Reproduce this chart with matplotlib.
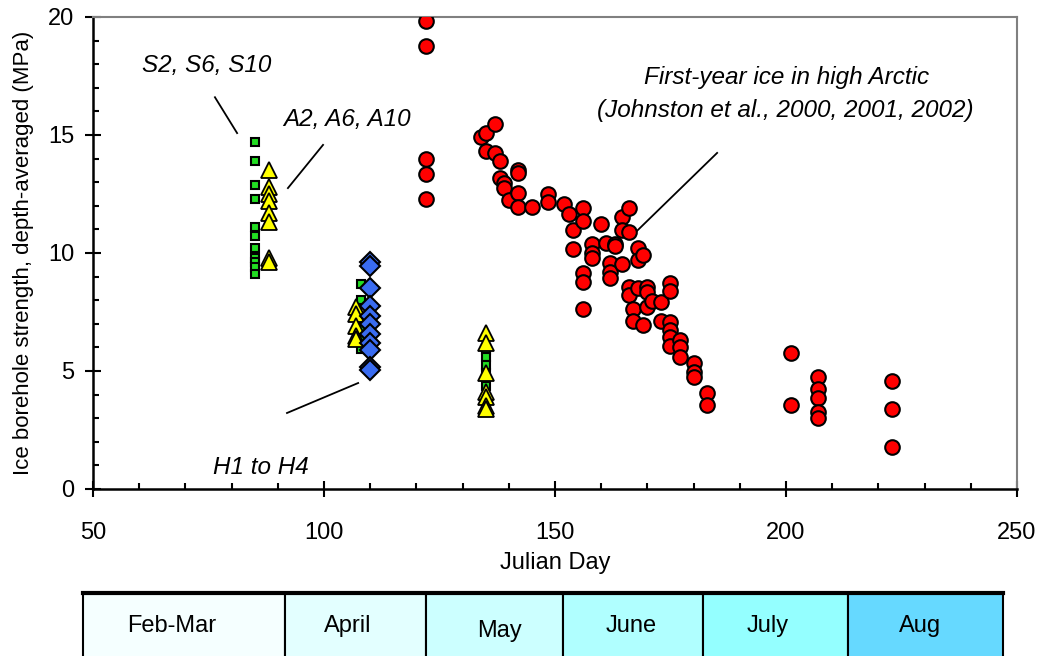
import matplotlib.pyplot as plt
from matplotlib.patches import Rectangle
from matplotlib.ticker import MultipleLocator

plt.rcParams['font.family'] = ['Liberation Sans', 'DejaVu Sans']

# S2, S6, S10 (squares)
s_day = [85] * 11 + [108] * 6 + [135] * 7
s_mpa = [14.7, 13.9, 12.9, 12.3, 11.1, 10.7, 10.2, 9.8, 9.6, 9.4, 9.1,
         8.7, 8.0, 7.2, 6.8, 6.3, 5.95,
         5.9, 5.6, 5.25, 4.9, 4.35, 3.85, 3.5]

# A2, A6, A10 (triangles)
a_day = [88] * 8 + [107] * 5 + [135] * 7
a_mpa = [13.5, 12.8, 12.5, 12.2, 11.7, 11.3, 9.8, 9.6,
         7.7, 7.4, 6.9, 6.5, 6.35,
         6.6, 6.2, 4.9, 4.1, 3.9, 3.5, 3.4]

# H1 to H4 (diamonds)
h_day = [110] * 11
h_mpa = [9.6, 9.45, 8.5, 7.75, 7.35, 7.0, 6.55, 6.2, 5.9, 5.15, 5.05]

# first-year ice, high Arctic
fy_day = [122, 122, 122, 122, 122,
          134, 135, 135, 137, 137, 138, 138, 139, 139, 140,
          142, 142, 142, 142, 145, 148.5, 148.5, 152, 153, 154, 154,
          156, 156, 156, 156, 156, 158, 158, 158, 160, 161,
          162, 162, 162, 163, 163, 164.6, 164.6, 164.6,
          166, 166, 166, 166, 167, 167, 168, 168, 168, 169, 169,
          170, 170, 170, 171, 173, 173,
          175, 175, 175, 175, 175, 175, 177, 177, 177,
          180, 180, 180, 183, 183, 201, 201,
          207, 207, 207, 207, 207, 223, 223, 223]
fy_mpa = [19.85, 18.75, 14.0, 13.35, 12.3,
          14.93, 15.07, 14.33, 15.45, 14.25, 13.91, 13.16, 12.98, 12.74, 12.25,
          13.52, 13.38, 12.56, 11.96, 11.96, 12.49, 12.17, 12.08, 11.65, 10.97, 10.16,
          11.89, 11.37, 9.14, 8.78, 7.63, 10.38, 9.99, 9.78, 11.21, 10.44,
          9.59, 9.21, 8.93, 10.38, 10.3, 11.54, 10.97, 9.52,
          11.89, 10.88, 8.57, 8.22, 7.63, 7.13, 10.2, 9.7, 8.5, 9.92, 6.95,
          8.57, 8.36, 7.73, 7.98, 7.91, 7.13,
          8.72, 8.4, 7.09, 6.74, 6.45, 6.06, 6.31, 6.03, 5.6,
          5.35, 4.97, 4.76, 4.08, 3.56, 5.78, 3.56,
          4.76, 4.22, 3.84, 3.28, 3.0, 4.59, 3.39, 1.77]

months = ['Feb-Mar', 'April', 'May', 'June', 'July', 'Aug']
month_edges = [47.8, 91.6, 122.0, 151.8, 182.0, 213.4, 247.0]
month_colors = ['#f5ffff', '#e3ffff', '#ccffff', '#b0ffff', '#94ffff', '#66d9ff']
# where each month name sits inside its box (x in days, y in strip units)
label_x = [67.1, 105.2, 138.1, 166.5, 196.1, 229.0]
label_y = [0.47, 0.47, 0.40, 0.47, 0.47, 0.47]

fig = plt.figure(figsize=(10.41, 6.56), dpi=100)
ax = fig.add_axes([0.0893, 0.2546, 0.8876, 0.7195])

ax.plot(fy_day, fy_mpa, 'o', color='red', markeredgecolor='black',
        markeredgewidth=1.5, markersize=10.5, zorder=3)
ax.plot(s_day, s_mpa, 's', color='#22dd22', markeredgecolor='black',
        markeredgewidth=1.5, markersize=6, zorder=3)
ax.plot(a_day, a_mpa, '^', color='yellow', markeredgecolor='black',
        markeredgewidth=1.3, markersize=11, zorder=4)
ax.plot(h_day, h_mpa, 'D', color='#3a6cf0', markeredgecolor='black',
        markeredgewidth=1.5, markersize=10.5, zorder=5)

ax.set_xlim(50, 250)
ax.set_ylim(0, 20)
ax.xaxis.set_major_locator(MultipleLocator(50))
ax.xaxis.set_minor_locator(MultipleLocator(10))
ax.yaxis.set_major_locator(MultipleLocator(5))
ax.yaxis.set_minor_locator(MultipleLocator(1))
ax.tick_params(which='major', direction='inout', length=11, width=1.5,
               labelsize=17)
ax.tick_params(axis='x', which='major', pad=18)
ax.tick_params(axis='y', which='major', pad=8)
ax.tick_params(which='minor', direction='in', length=4.5, width=1.5)
ax.spines['left'].set_linewidth(1.8)
ax.spines['bottom'].set_linewidth(1.8)
for side in ['top', 'right']:
    ax.spines[side].set_color('#808080')
    ax.spines[side].set_linewidth(1.5)

ax.set_xlabel('Julian Day', fontsize=17, labelpad=6)
ax.set_ylabel('Ice borehole strength, depth-averaged (MPa)', fontsize=16,
              labelpad=10)

# labels and leader lines
ax.text(74.7, 17.95, 'S2, S6, S10', fontsize=17.5, style='italic', ha='center', va='center')
ax.plot([76.4, 81.2], [16.6, 15.08], color='black', lw=1.3)
ax.text(105, 15.65, 'A2, A6, A10', fontsize=17.5, style='italic', ha='center', va='center')
ax.plot([99.8, 92.2], [14.58, 12.75], color='black', lw=1.3)
ax.text(86.4, 0.9, 'H1 to H4', fontsize=17.5, style='italic', ha='center', va='center')
ax.plot([92, 107.4], [3.22, 4.49], color='black', lw=1.3)
ax.text(200.2, 17.45, 'First-year ice in high Arctic', fontsize=17.5, style='italic',
        ha='center', va='center')
ax.text(199.8, 16.05, '(Johnston et al., 2000, 2001, 2002)', fontsize=17.5,
        style='italic', ha='center', va='center')
ax.plot([185.1, 166.2], [14.24, 10.64], color='black', lw=1.3)

# month strip under the axis
ax2 = fig.add_axes([0.0893, 0.0, 0.8876, 0.0991])
for lo, hi, c in zip(month_edges[:-1], month_edges[1:], month_colors):
    ax2.add_patch(Rectangle((lo, -1), hi - lo, 2, facecolor=c,
                            edgecolor='black', lw=1.5, clip_on=False))
for name, x, y in zip(months, label_x, label_y):
    ax2.text(x, y, name, fontsize=17, ha='center', va='center')
ax2.plot([month_edges[0], month_edges[-1]], [1, 1], color='black', lw=3,
         clip_on=False)
ax2.set_xlim(50, 250)
ax2.set_ylim(0, 1.03)
ax2.axis('off')

fig.savefig('out.png', dpi=100)
